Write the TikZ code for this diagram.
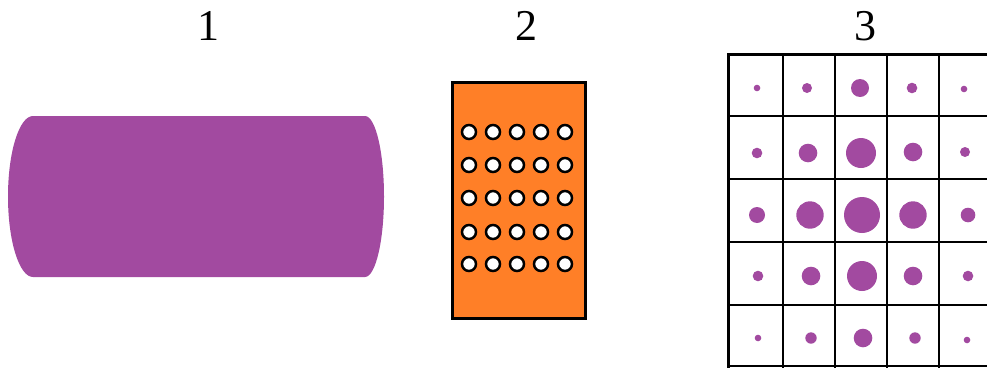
\documentclass[tikz,border=0pt]{standalone}
\usepackage{fontspec}
\setmainfont{Liberation Serif}
\definecolor{plum}{RGB}{162,74,160}
\definecolor{orng}{RGB}{255,127,39}
\tikzset{
  lbl/.style={anchor=base,font=\fontsize{44}{52}\selectfont},
  hole/.style={draw=black,fill=white,line width=2.5pt},
  dot/.style={fill=plum},
  thin grid/.style={line width=1.3pt},
  thick border/.style={line width=3pt}
}
\begin{document}
\begin{tikzpicture}[x=1pt,y=-1pt]
\useasboundingbox (0,0) rectangle (987,367);
\clip (0,0) rectangle (987,367);
% labels
\node[lbl] (l1) at (208,40) {1};
\node[lbl] (l2) at (526,40) {2};
\node[lbl] (l3) at (865,40) {3};
% shape 1
\fill[plum] (33,116) arc[start angle=270,end angle=90,x radius=25,y radius=80.5]
  -- (365,277) arc[start angle=90,end angle=-90,x radius=19,y radius=80.5] -- cycle;
% shape 2
\draw[fill=orng,line width=3pt] (452,82) rectangle (585,318);
\foreach \cx in {469,493,517,541,565}
  \foreach \cy in {132,165,198,232,264}
    \draw[hole] (\cx,\cy) circle[radius=7];
% shape 3 grid
\foreach \gx in {783,835,887,939,991}
  \draw[thin grid] (\gx,54) -- (\gx,370);
\foreach \gy in {116,179,242,305,366}
  \draw[thin grid] (728,\gy) -- (995,\gy);
\draw[thick border] (728,370) -- (728,54) -- (995,54);
% dots
\foreach \xx/\yy/\rr in {
  757/88/3.3, 807/88/5, 860/88/9, 912/88/5.3, 964/89/3.3,
  757/153/5.3, 808/153/9.3, 861/153/15, 913/152/9.3, 965/152/5,
  757/215/8, 810/215/13.7, 862/215/18, 913/215/13.7, 968/215/7.3,
  758/276/5.3, 811/276/9.3, 862/276/15, 913/276/9.3, 968/276/5.3,
  758/338/3.3, 811/338/5.7, 863/338/9.3, 915/338/5.7, 967/340/3.3}
  \fill[dot] (\xx,\yy) circle[radius=\rr];
\end{tikzpicture}
\end{document}
